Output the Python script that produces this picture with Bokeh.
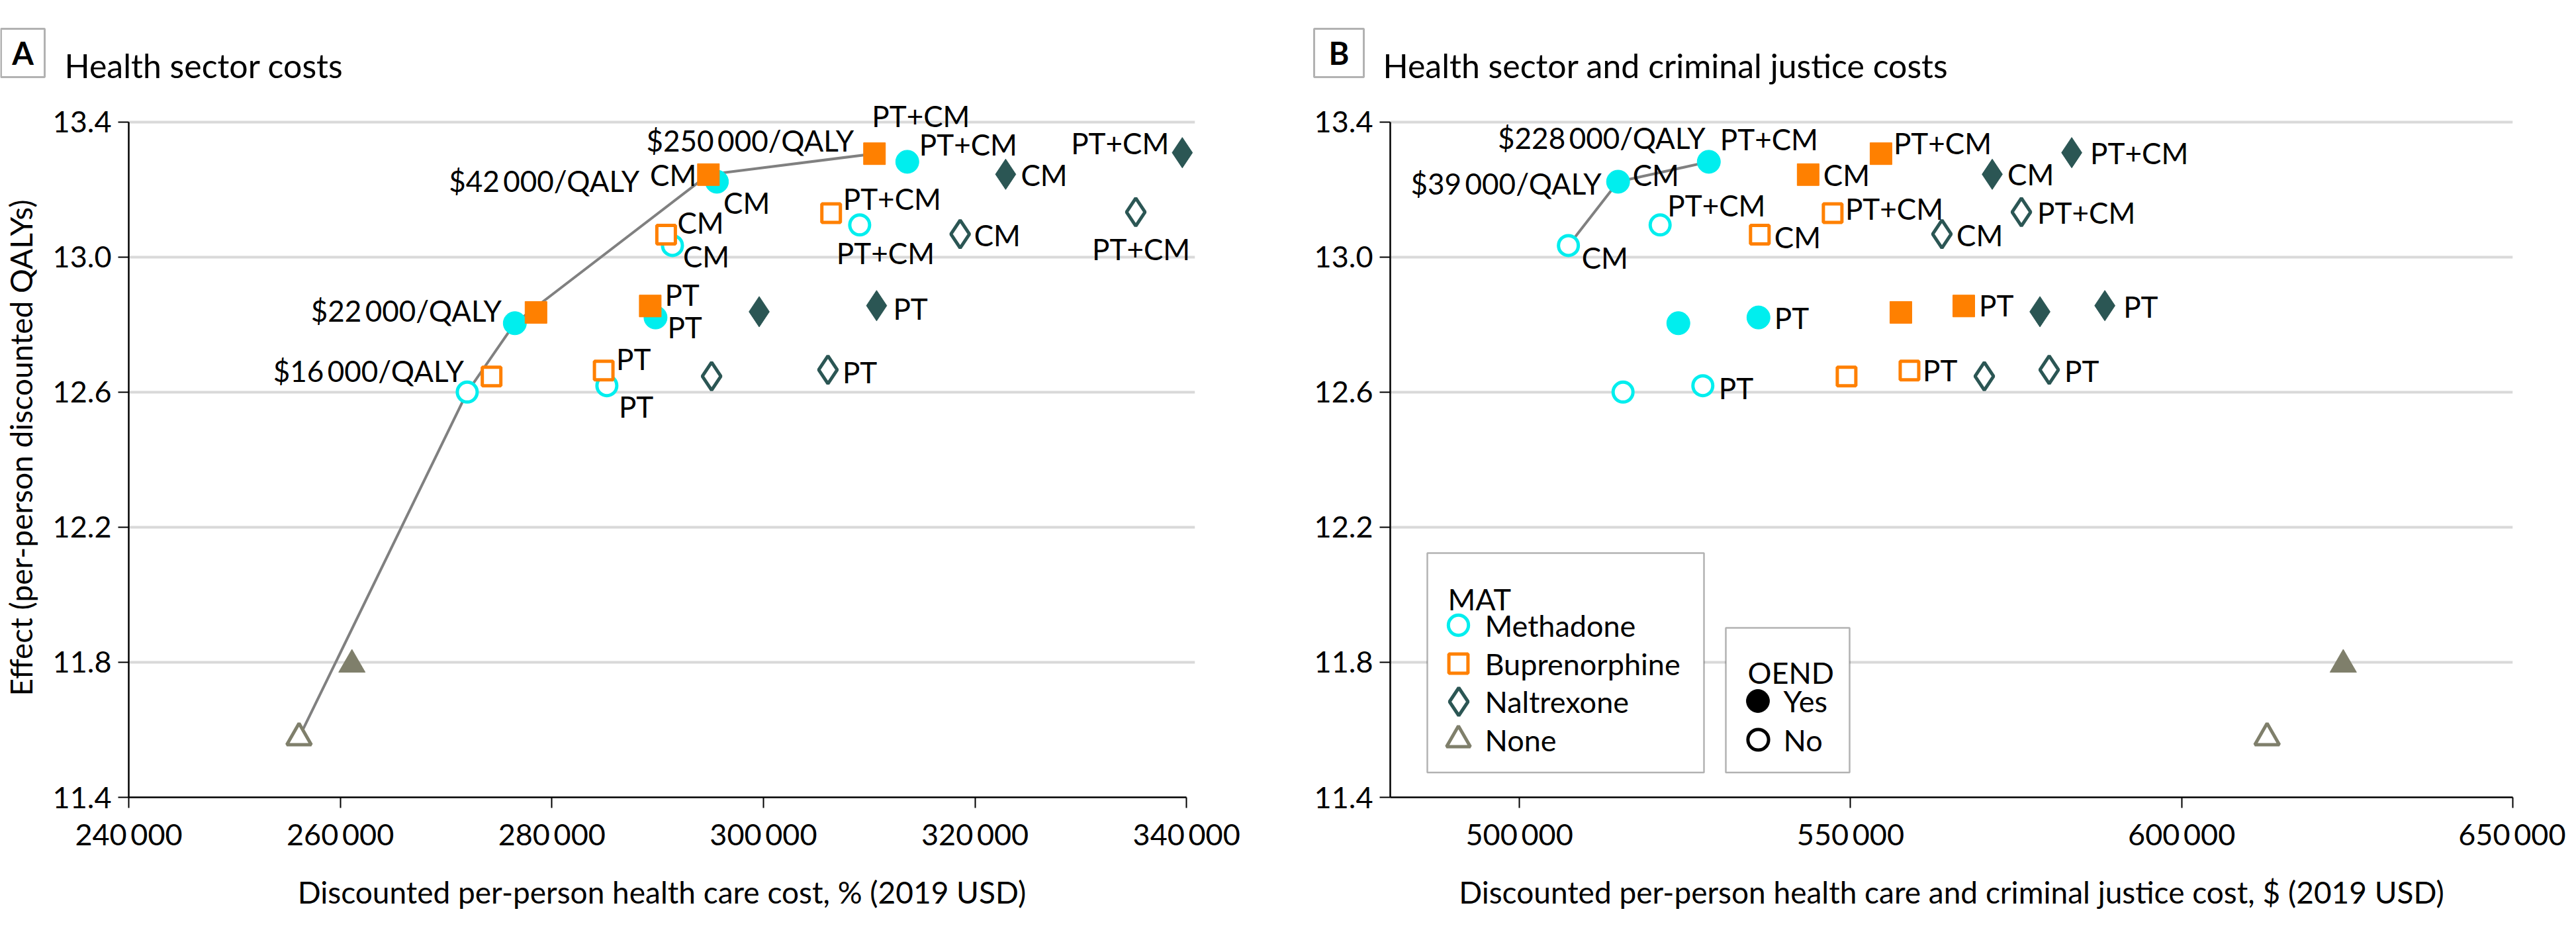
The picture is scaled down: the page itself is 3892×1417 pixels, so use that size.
import math
from bokeh.plotting import figure
from bokeh.layouts import row, column
from bokeh.models import (ColumnDataSource, FixedTicker, CustomJSTickFormatter, Label,
                          BoxAnnotation, Legend, LegendItem)
from bokeh.core.properties import value
from bokeh.embed import file_html
from bokeh.resources import INLINE

FONT = "Lato"

# ---------------- data ----------------
# strategy order: for each MAT, OEND No then Yes, add-on MAT only / PT / CM / PT+CM; then None (No, Yes)
mat_type = ["Methadone"] * 8 + ["Buprenorphine"] * 8 + ["Naltrexone"] * 8 + ["None"] * 2
oend = (["No"] * 4 + ["Yes"] * 4) * 3 + ["No", "Yes"]
addon = ["MAT", "PT", "CM", "PT+CM"] * 6 + ["", ""]

qalys = [
    12.600, 12.619, 13.034, 13.095,   # methadone, no OEND
    12.804, 12.821, 13.223, 13.282,   # methadone, OEND
    12.646, 12.664, 13.066, 13.130,   # buprenorphine, no OEND
    12.836, 12.855, 13.244, 13.306,   # buprenorphine, OEND
    12.647, 12.666, 13.068, 13.133,   # naltrexone, no OEND
    12.838, 12.856, 13.245, 13.309,   # naltrexone, OEND
    11.577, 11.793,                   # none
]

cost_health = [
    272000, 285200, 291400, 309100,
    276500, 289800, 295600, 313600,
    274300, 284900, 290800, 306400,
    278500, 289300, 294800, 310500,
    295100, 306100, 318600, 335200,
    299600, 310700, 322900, 339600,
    256100, 261100,
]

cost_health_cj = [
    515650, 527700, 507400, 521250,
    524000, 536100, 514900, 528600,
    549400, 558900, 536300, 547300,
    557600, 567100, 543600, 554600,
    570200, 580000, 563800, 575800,
    578600, 588400, 571400, 583400,
    612900, 624400,
]

frontier_a = [24, 0, 4, 14, 15]
frontier_b = [2, 6, 7]
icer_a_labels = ["$16\u2009000/QALY", "$22\u2009000/QALY", "$42\u2009000/QALY", "$250\u2009000/QALY"]
icer_a_at = [0, 4, 14, 15]
icer_b_labels = ["$39\u2009000/QALY", "$228\u2009000/QALY"]
icer_b_at = [6, 7]

y_ticks = [11.4, 11.8, 12.2, 12.6, 13.0, 13.4]
y_tick_labels = ["11.4", "11.8", "12.2", "12.6", "13.0", "13.4"]
x_ticks_a = [240000, 260000, 280000, 300000, 320000, 340000]
x_tick_labels_a = ["240\u2009000", "260\u2009000", "280\u2009000", "300\u2009000", "320\u2009000", "340\u2009000"]
x_ticks_b = [500000, 550000, 600000, 650000]
x_tick_labels_b = ["500\u2009000", "550\u2009000", "600\u2009000", "650\u2009000"]

mat_names = ["Methadone", "Buprenorphine", "Naltrexone", "None"]
oend_names = ["Yes", "No"]

# ---------------- styles / label placement ----------------
COLORS = {"Methadone": "#00EEEE", "Buprenorphine": "#FF8000", "Naltrexone": "#2B5654", "None": "#7F7F6B"}
MARKERS = {"Methadone": "circle", "Buprenorphine": "square", "Naltrexone": "diamond", "None": "triangle"}
SIZE_FILLED = {"circle": 35, "square": 33, "diamond": 46, "triangle": 40}
SIZE_OPEN = {"circle": 30, "square": 28, "diamond": 42, "triangle": 37}
LEGEND_BOX = {"circle": 76, "square": 72, "diamond": 105, "triangle": 90}

# index -> (x offset px, y offset px (down), align)
offsets_a = {
    1: (18, 31, "left"), 2: (16, 16, "left"), 3: (-35, 42, "left"),
    5: (18, 14, "left"), 6: (10, 31, "left"), 7: (18, -26, "left"),
    9: (19, -18, "left"), 10: (17, -19, "left"), 11: (18, -22, "left"),
    13: (22, -17, "left"), 14: (-18, 0, "right"), 15: (-4, -57, "left"),
    17: (22, 3, "left"), 18: (21, 1, "left"), 19: (-66, 56, "left"),
    21: (25, 4, "left"), 22: (23, 1, "left"), 23: (-20, -15, "right"),
}
offsets_b = {
    1: (24, 3, "left"), 2: (20, 18, "left"), 3: (11, -30, "left"),
    5: (24, 0, "left"), 6: (22, -11, "left"), 7: (17, -34, "left"),
    9: (20, -1, "left"), 10: (22, 3, "left"), 11: (19, -7, "left"),
    13: (23, -1, "left"), 14: (23, 0, "left"), 15: (19, -16, "left"),
    17: (23, 1, "left"), 18: (22, 1, "left"), 19: (24, 1, "left"),
    21: (28, 1, "left"), 22: (23, 0, "left"), 23: (28, 0, "left"),
}
icer_off_a = [(-5, -32), (-20, -19), (-104, 9), (-31, -20)]
icer_off_b = [(-25, 2), (-5, -36)]

TITLE_H = 140
PLOT_H = 1260


def tick_formatter(tv, tl):
    return CustomJSTickFormatter(args=dict(tv=tv, tl=tl), code="""
        for (let i = 0; i < tv.length; i++) {
            if (Math.abs(tv[i] - tick) < 1e-6) return tl[i];
        }
        return '';
    """)


def title_fig(width, box_lr, letter, title_x, title):
    t = figure(width=width, height=TITLE_H, x_range=(0, width), y_range=(0, TITLE_H),
               x_axis_type=None, y_axis_type=None, output_backend="svg",
               toolbar_location=None, min_border=0)
    t.outline_line_color = None
    t.grid.visible = False
    t.add_layout(BoxAnnotation(left=box_lr[0], right=box_lr[1], top=97, bottom=24,
                               fill_color=None, fill_alpha=0, line_color="black", line_width=3))
    t.add_layout(Label(x=(box_lr[0] + box_lr[1]) / 2, y=60.5, text=letter,
                       text_font=FONT, text_font_size="47px", text_font_style="bold",
                       text_align="center", text_baseline="middle", text_color="black"))
    t.add_layout(Label(x=title_x, y=42, text=title, text_font=FONT, text_font_size="50px",
                       text_align="left", text_baseline="alphabetic", text_color="black"))
    return t


def make_panel(costs, x_range, x_ticks, x_tick_labels, xlabel, ylabel, offsets,
               frontier, icer_labels, icer_at, icer_off, width, bl, br, axis_bounds):
    p = figure(width=width, height=PLOT_H, x_range=x_range, y_range=(11.4, 13.47),
               output_backend="svg", toolbar_location=None,
               min_border_left=bl, min_border_right=br, min_border_top=8, min_border_bottom=196)
    p.outline_line_color = None
    p.background_fill_color = "white"
    p.border_fill_color = "white"
    p.xgrid.grid_line_color = None
    p.ygrid.grid_line_color = "#D9D9D9"
    p.ygrid.grid_line_width = 4
    p.ygrid.ticker = FixedTicker(ticks=y_ticks)

    for ax in (p.xaxis[0], p.yaxis[0]):
        ax.axis_line_color = "black"
        ax.axis_line_width = 2.5
        ax.major_tick_line_color = "black"
        ax.major_tick_line_width = 2
        ax.major_tick_out = 16
        ax.major_tick_in = 0
        ax.minor_tick_line_color = None
        ax.major_label_text_font = FONT
        ax.major_label_text_font_size = "45px"
        ax.major_label_text_color = "black"
        ax.axis_label_text_font = FONT
        ax.axis_label_text_font_size = "46px"
        ax.axis_label_text_font_style = "normal"
        ax.axis_label_text_color = "black"
    p.xaxis.ticker = FixedTicker(ticks=x_ticks)
    p.xaxis.formatter = tick_formatter(x_ticks, x_tick_labels)
    p.xaxis.major_label_standoff = 12
    p.xaxis.axis_label = xlabel
    p.xaxis.axis_label_standoff = 30
    p.xaxis.bounds = axis_bounds
    p.yaxis.ticker = FixedTicker(ticks=y_ticks)
    p.yaxis.formatter = tick_formatter(y_ticks, y_tick_labels)
    p.yaxis.major_label_standoff = 10
    p.yaxis.bounds = (11.4, 13.4)
    if ylabel:
        p.yaxis.axis_label = ylabel
        p.yaxis.axis_label_standoff = 18

    # efficiency frontier
    p.line(x=[costs[i] for i in frontier], y=[qalys[i] for i in frontier],
           line_color="#808080", line_width=4)

    # markers
    mk, fill, line, size, lw = [], [], [], [], []
    for m, o in zip(mat_type, oend):
        marker = MARKERS[m]
        mk.append(marker)
        line.append(COLORS[m])
        if o == "Yes":
            fill.append(COLORS[m]); size.append(SIZE_FILLED[marker]); lw.append(1)
        else:
            fill.append("white"); size.append(SIZE_OPEN[marker]); lw.append(5)
    src = ColumnDataSource(dict(x=costs, y=qalys, marker=mk, fill=fill, line=line, size=size, lw=lw))
    p.scatter(x="x", y="y", marker="marker", size="size", fill_color="fill",
              line_color="line", line_width="lw", source=src)

    # point labels
    lx, ly, lt, ldx, ldy, la = [], [], [], [], [], []
    for i, (dx, dy, al) in offsets.items():
        lx.append(costs[i]); ly.append(qalys[i]); lt.append(addon[i])
        ldx.append(dx); ldy.append(dy); la.append(al)
    for lab, i, (dx, dy) in zip(icer_labels, icer_at, icer_off):
        lx.append(costs[i]); ly.append(qalys[i]); lt.append(lab)
        ldx.append(dx); ldy.append(dy); la.append("right")
    tsrc = ColumnDataSource(dict(x=lx, y=ly, text=lt, dx=ldx, dy=ldy, align=la))
    p.text(x="x", y="y", text="text", x_offset="dx", y_offset="dy", text_align="align",
           text_baseline="middle", text_font=value(FONT), text_font_size="44px",
           text_color="black", source=tsrc)
    return p


tA = title_fig(1942, (1, 67), "A", 97, "Health sector costs")
tB = title_fig(1934, (43, 118), "B", 147, "Health sector and criminal justice costs")

pA = make_panel(cost_health, (240000, 340800), x_ticks_a, x_tick_labels_a,
                "Discounted per-person health care cost, % (2019 USD)",
                "Effect (per-person discounted QALYs)", offsets_a,
                frontier_a, icer_a_labels, icer_a_at, icer_off_a,
                width=1942, bl=192, br=137, axis_bounds=(240000, 340000))

pB = make_panel(cost_health_cj, (480500, 650000), x_ticks_b, x_tick_labels_b,
                "Discounted per-person health care and criminal justice cost, $ (2019 USD)",
                None, offsets_b,
                frontier_b, icer_b_labels, icer_b_at, icer_off_b,
                width=1934, bl=158, br=80, axis_bounds=(480500, 650000))

# ---------------- legends (panel B) ----------------
pB.add_layout(BoxAnnotation(left=56, right=474, top=369, bottom=37.5,
                            left_units="screen", right_units="screen",
                            top_units="screen", bottom_units="screen",
                            fill_color="white", fill_alpha=1, line_color="black", line_width=2.5))
pB.add_layout(BoxAnnotation(left=507, right=694, top=256, bottom=37.5,
                            left_units="screen", right_units="screen",
                            top_units="screen", bottom_units="screen",
                            fill_color="white", fill_alpha=1, line_color="black", line_width=2.5))

nan = float("nan")


def legend_entry(label, renderer, box, xc, yc, text_x):
    # glyph only (legend scales the marker to 0.4 x the glyph box), text as a label
    lg = Legend(items=[LegendItem(label=" ", renderers=[renderer])],
                location=(xc - box / 2, yc - box / 2), orientation="vertical",
                glyph_width=box, glyph_height=box, spacing=0, label_standoff=0,
                padding=0, margin=0, border_line_color=None, background_fill_alpha=0,
                label_text_font=FONT, label_text_font_size="10px", label_height=10,
                label_width=1, label_text_color="black")
    pB.add_layout(lg)
    pB.add_layout(Label(x=text_x, y=yc, x_units="screen", y_units="screen", text=label,
                        text_font=FONT, text_font_size="45px", text_baseline="middle",
                        text_color="black"))


mat_centers = [260, 202, 145, 87]
for m, yc in zip(mat_names, mat_centers):
    r = pB.scatter(x=[nan], y=[nan], marker=MARKERS[m], size=10, fill_color="white",
                   line_color=COLORS[m], line_width=5)
    legend_entry(m, r, LEGEND_BOX[MARKERS[m]], 103, yc, 143)

oend_centers = [146, 87]
for o, yc in zip(oend_names, oend_centers):
    r = pB.scatter(x=[nan], y=[nan], marker="circle", size=10,
                   fill_color="black" if o == "Yes" else "white", line_color="black",
                   line_width=1 if o == "Yes" else 5)
    legend_entry(o, r, 87 if o == "Yes" else 78, 555.6, yc, 594)

pB.add_layout(Label(x=87, y=300, x_units="screen", y_units="screen", text="MAT",
                    text_font=FONT, text_font_size="45px", text_baseline="alphabetic",
                    text_color="black"))
pB.add_layout(Label(x=540, y=189, x_units="screen", y_units="screen", text="OEND",
                    text_font=FONT, text_font_size="45px", text_baseline="alphabetic",
                    text_color="black"))

layout = column(row(tA, tB), row(pA, pB))
open("out.html", "w").write(file_html(layout, INLINE))
